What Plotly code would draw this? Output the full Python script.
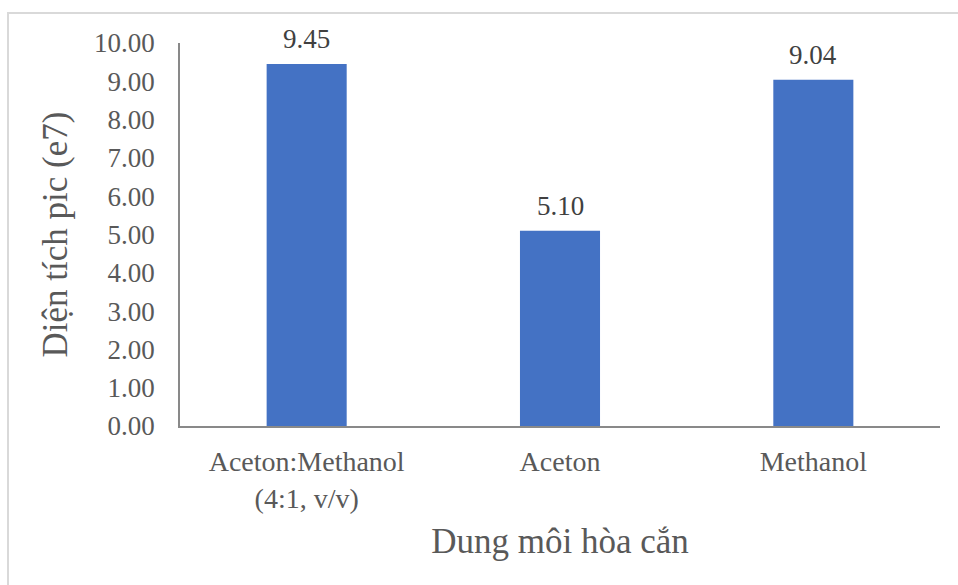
import plotly.graph_objects as go

# Solvent categories and measured peak areas (x1e7)
categories = ["Aceton:Methanol<br>(4:1, v/v)", "Aceton", "Methanol"]
peak_area = [9.45, 5.10, 9.04]
y_ticks = [0, 1, 2, 3, 4, 5, 6, 7, 8, 9, 10]

FONT = "Liberation Serif"
W, H = 958, 585
L, R, T, B = 180, 18, 43, 159

fig = go.Figure(
    go.Bar(
        x=categories,
        y=peak_area,
        marker=dict(color="#4472C4", line=dict(width=0)),
        cliponaxis=False,
    )
)

# Value labels above each bar
for cat, v in zip(categories, peak_area):
    fig.add_annotation(
        x=cat, y=v, text=f"{v:.2f}", showarrow=False,
        yanchor="bottom", yshift=8,
        font=dict(family=FONT, size=27, color="#404040"),
    )

fig.update_layout(
    width=W,
    height=H,
    margin=dict(l=L, r=R, t=T, b=B),
    paper_bgcolor="white",
    plot_bgcolor="white",
    bargap=0.684,
    showlegend=False,
    font=dict(family=FONT, color="#595959"),
    xaxis=dict(
        showline=True,
        linecolor="#898989",
        linewidth=1.5,
        ticks="",
        ticklabelstandoff=10,
        tickfont=dict(family=FONT, size=28, color="#595959"),
        title=dict(text="Dung môi hòa cắn", font=dict(family=FONT, size=35, color="#595959"), standoff=16),
    ),
    yaxis=dict(
        range=[0, 10],
        tickvals=y_ticks,
        ticktext=[f"{v:.2f}" for v in y_ticks],
        showgrid=False,
        zeroline=False,
        showline=True,
        linecolor="#898989",
        linewidth=1.5,
        ticks="",
        ticklabelstandoff=18,
        tickfont=dict(family=FONT, size=27, color="#595959"),
        title=dict(text="Diện tích pic (e7)", font=dict(family=FONT, size=35, color="#595959"), standoff=16),
    ),
)

# Light grey frame around the chart area
pw, ph = W - L - R, H - T - B
fig.add_shape(
    type="rect", xref="paper", yref="paper",
    x0=(8 - L) / pw, x1=(W + 5 - L) / pw,
    y0=-(H + 5 - T - ph) / ph, y1=1 + (T - 13) / ph,
    line=dict(color="#d9d9d9", width=2), fillcolor="rgba(0,0,0,0)", layer="below",
)

fig.write_html("out.html")
